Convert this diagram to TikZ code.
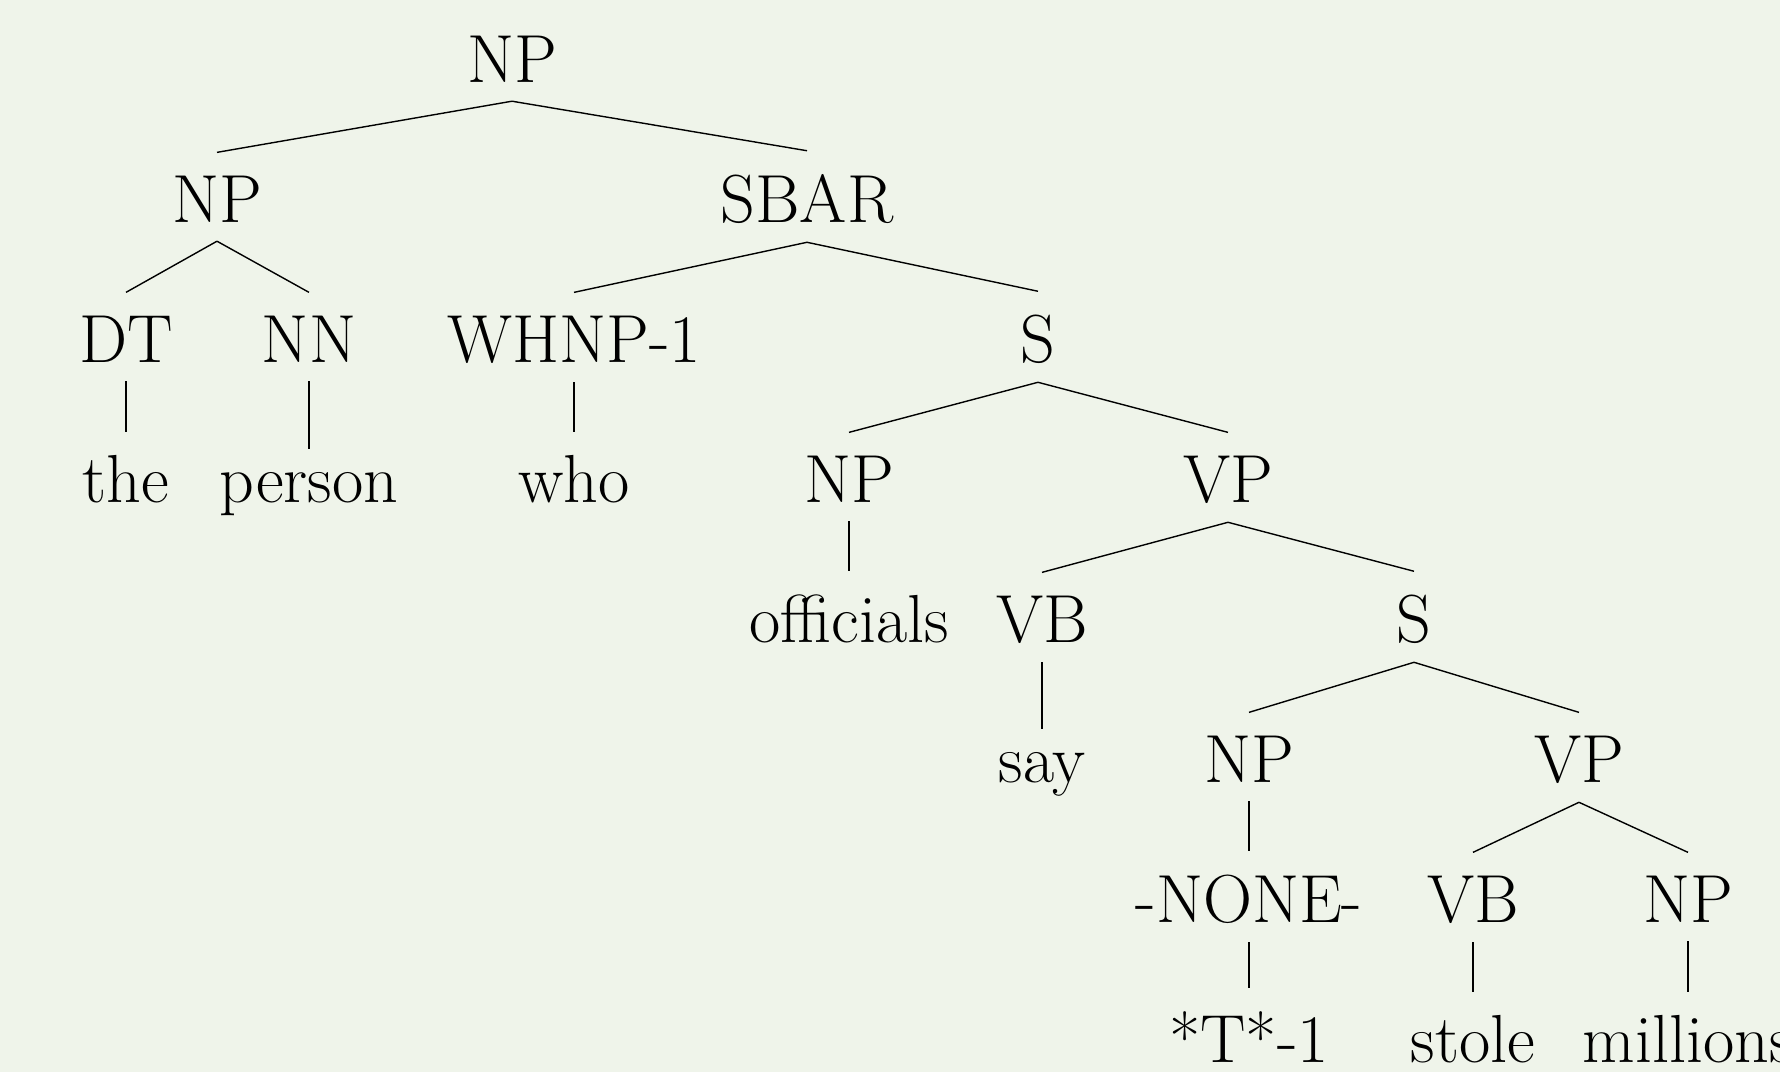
\documentclass[tikz,border=0pt]{standalone}
\definecolor{bgc}{RGB}{239,244,234}
\begin{document}
\begin{tikzpicture}[x=0.25pt,y=-0.25pt,
  lbl/.style={font=\fontsize{17}{20}\selectfont, anchor=base, inner ysep=5pt, inner xsep=5pt},
  br/.style={draw=black, line width=0.35pt}]
\fill[bgc] (0,0) rectangle (1780,1072);
\useasboundingbox (0,0) rectangle (1780,1072);
\node[lbl] (np0) at (512,82) {NP};
\node[lbl] (np1) at (217,222) {NP};
\node[lbl] (sbar) at (807,222) {SBAR};
\node[lbl] (dt) at (126,362) {DT};
\node[lbl] (nn) at (309,362) {NN};
\node[lbl] (whnp) at (574,362) {WHNP-1};
\node[lbl] (s1) at (1038,362) {S};
\node[lbl] (the) at (126,502) {the};
\node[lbl] (person) at (309,502) {person};
\node[lbl] (who) at (574,502) {who};
\node[lbl] (np2) at (849,502) {NP};
\node[lbl] (vp1) at (1228,502) {VP};
\node[lbl] (officials) at (849,642) {officials};
\node[lbl] (vb1) at (1042,642) {VB};
\node[lbl] (s2) at (1414,642) {S};
\node[lbl] (say) at (1042,782) {say};
\node[lbl] (np3) at (1249,782) {NP};
\node[lbl] (vp2) at (1579,782) {VP};
\node[lbl] (none) at (1249,922) {-NONE-};
\node[lbl] (vb2) at (1473,922) {VB};
\node[lbl] (np4) at (1688,922) {NP};
\node[lbl] (tr) at (1249,1062) {*T*-1};
\node[lbl] (stole) at (1473,1062) {stole};
\node[lbl] (millions) at (1688,1062) {millions};
\foreach \p/\c in {np0/np1,np0/sbar,np1/dt,np1/nn,dt/the,nn/person,sbar/whnp,sbar/s1,whnp/who,s1/np2,s1/vp1,np2/officials,vp1/vb1,vp1/s2,vb1/say,s2/np3,s2/vp2,np3/none,none/tr,vp2/vb2,vp2/np4,vb2/stole,np4/millions}
  \draw[br] ([yshift=0.4pt]\p.south) -- ([yshift=0.6pt]\c.north);
\end{tikzpicture}
\end{document}
